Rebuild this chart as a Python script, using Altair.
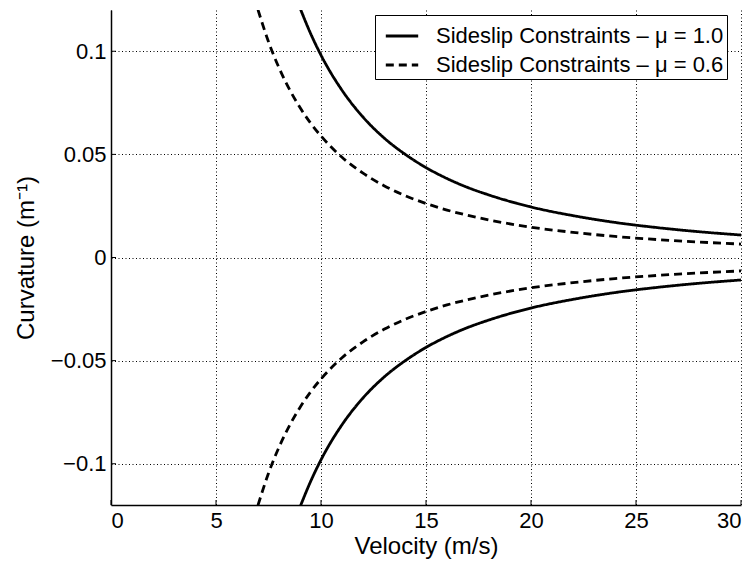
import altair as alt
import pandas as pd

# Values
v_mu10 = [9.0, 9.5, 10, 11, 12, 13, 14, 15, 16, 17, 18, 20, 22, 24, 26, 28, 30]
k_mu10_upper = [0.121, 0.1087, 0.0981, 0.0811, 0.0681, 0.0580, 0.0501, 0.0436, 0.0383,
                0.0339, 0.0303, 0.0245, 0.0203, 0.0170, 0.0145, 0.0125, 0.0109]
k_mu10_lower = [-0.121, -0.1087, -0.0981, -0.0811, -0.0681, -0.0580, -0.0501, -0.0436, -0.0383,
                -0.0339, -0.0303, -0.0245, -0.0203, -0.0170, -0.0145, -0.0125, -0.0109]

v_mu06 = [7.0, 7.5, 8, 8.5, 9, 9.5, 10, 11, 12, 13, 14, 15, 16, 17, 18, 20, 22, 24, 26, 28, 30]
k_mu06_upper = [0.1201, 0.1046, 0.0920, 0.0815, 0.0727, 0.0652, 0.0589, 0.0486, 0.0409, 0.0348,
                0.0300, 0.0262, 0.0230, 0.0204, 0.0182, 0.0147, 0.0122, 0.0102, 0.0087, 0.0075, 0.0065]
k_mu06_lower = [-0.1201, -0.1046, -0.0920, -0.0815, -0.0727, -0.0652, -0.0589, -0.0486, -0.0409, -0.0348,
                -0.0300, -0.0262, -0.0230, -0.0204, -0.0182, -0.0147, -0.0122, -0.0102, -0.0087, -0.0075, -0.0065]

series_names = ["Sideslip Constraints – μ = 1.0", "Sideslip Constraints – μ = 0.6"]
x_ticks = [0, 5, 10, 15, 20, 25, 30]
y_ticks = [-0.1, -0.05, 0, 0.05, 0.1]

rows = []
for v, k in zip(v_mu10, k_mu10_upper):
    rows.append({"v": v, "k": k, "series": series_names[0], "branch": "a_up"})
for v, k in zip(v_mu10, k_mu10_lower):
    rows.append({"v": v, "k": k, "series": series_names[0], "branch": "a_low"})
for v, k in zip(v_mu06, k_mu06_upper):
    rows.append({"v": v, "k": k, "series": series_names[1], "branch": "b_up"})
for v, k in zip(v_mu06, k_mu06_lower):
    rows.append({"v": v, "k": k, "series": series_names[1], "branch": "b_low"})
df = pd.DataFrame(rows)

FONT = "Liberation Sans"
W, H = 630, 495

x_scale = alt.Scale(domain=[0, 30], nice=False, zero=False)
y_scale = alt.Scale(domain=[-0.12, 0.12], nice=False, zero=False)

lines = alt.Chart(df).mark_line(color="black", strokeWidth=2.8, clip=True, interpolate="monotone").encode(
    x=alt.X("v:Q", scale=x_scale,
            axis=alt.Axis(title="Velocity (m/s)", values=x_ticks, format="d", grid=True,
                          gridDash=[1, 2.5], gridColor="black", gridOpacity=1, gridWidth=1,
                          ticks=False, labelPadding=5, titlePadding=3,
                          domainColor="black", domainWidth=1.5)),
    y=alt.Y("k:Q", scale=y_scale,
            axis=alt.Axis(title="Curvature (m⁻¹)", values=y_ticks, format="~g", grid=True,
                          gridDash=[1, 2.5], gridColor="black", gridOpacity=1, gridWidth=1,
                          ticks=False, labelPadding=5, titlePadding=12,
                          domainColor="black", domainWidth=1.5)),
    strokeDash=alt.StrokeDash("series:N",
                              scale=alt.Scale(domain=series_names, range=[[1, 0], [8, 5]]),
                              sort=series_names,
                              legend=alt.Legend(title=None, orient="none", legendX=264, legendY=5,
                                                symbolType="stroke", symbolSize=1050,
                                                symbolStrokeWidth=2.8, symbolStrokeColor="black",
                                                symbolOffset=6,
                                                labelFontSize=22, labelFont=FONT, labelColor="black",
                                                labelOffset=16, rowPadding=0, padding=3,
                                                fillColor="white", strokeColor="black",
                                                labelLimit=500)),
    detail="branch:N",
)

xt = pd.DataFrame({"t": x_ticks})
yt = pd.DataFrame({"t": y_ticks})
xticks = alt.Chart(xt).mark_rule(color="black", strokeWidth=1).encode(
    x=alt.X("t:Q", scale=x_scale), y=alt.value(H), y2=alt.value(H - 5))
yticks = alt.Chart(yt).mark_rule(color="black", strokeWidth=1).encode(
    y=alt.Y("t:Q", scale=y_scale), x=alt.value(0), x2=alt.value(5))

chart = alt.layer(lines, xticks, yticks).properties(
    width=W, height=H, padding={"left": 6, "top": 2, "right": 2, "bottom": 2}
).configure_view(stroke=None).configure_axis(
    labelFont=FONT, titleFont=FONT, labelFontSize=22, titleFontSize=24,
    labelColor="black", titleColor="black", titleFontWeight="normal"
)

chart.save("out.html", embed_options={"renderer": "svg", "actions": False})
